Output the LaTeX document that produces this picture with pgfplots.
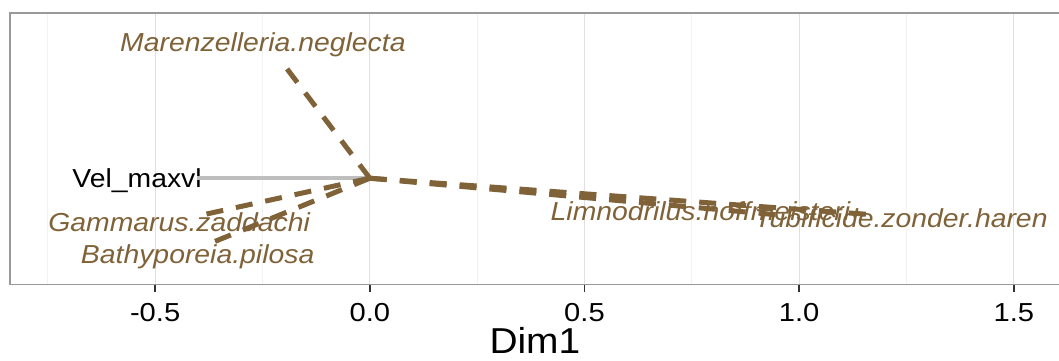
\documentclass[border=0pt]{standalone}
\usepackage{fontspec}
\setmainfont{Liberation Sans}
\usepackage{pgfplots}
\pgfplotsset{compat=1.18}
\definecolor{spc}{RGB}{128,98,56}
\definecolor{envc}{RGB}{190,190,190}
\tikzset{
  spcline/.style={spc, line width=2.5pt, dash pattern=on 8.5pt off 6.5pt, no markers},
  spclab/.style={text=spc, font=\itshape\fontsize{13}{15}\selectfont\addfontfeature{FakeStretch=1.09}},
}
\begin{document}
\begin{tikzpicture}
\begin{axis}[
  name=ax,
  scale only axis,
  width=524.5pt, height=135.5pt,
  xmin=-0.838, xmax=1.607, ymin=-0.247, ymax=0.385,
  axis line style={draw=black!40, line width=0.7pt},
  xtick={-0.5,0,0.5,1,1.5},
  xticklabels={-0.5,0.0,0.5,1.0,1.5},
  minor xtick={-0.75,-0.25,0.25,0.75,1.25},
  ytick=\empty,
  xmajorgrids, xminorgrids,
  major grid style={black!12, line width=0.6pt},
  minor grid style={black!5, line width=0.6pt},
  tick pos=bottom, tick align=outside,
  major tick length=4pt, minor tick length=0pt,
  every tick/.style={black!80, line width=0.8pt},
  ticklabel style={font=\fontsize{13}{15}\selectfont\addfontfeature{FakeStretch=1.12}, text=black, yshift=-2pt},
  xlabel={Dim1},
  xlabel style={font=\fontsize{18}{20}\selectfont\addfontfeature{FakeStretch=1.08}, yshift=4pt},
  clip=false,
]
% species and variable names
\node[spclab] at (axis cs:-0.249,0.310) {Marenzelleria.neglecta};
\node[text=black, font=\fontsize{13}{15}\selectfont\addfontfeature{FakeStretch=1.09}] at (axis cs:-0.542,-0.005) {Vel\_maxvl};
\node[spclab] at (axis cs:-0.444,-0.103) {Gammarus.zaddachi};
\node[spclab] at (axis cs:-0.401,-0.182) {Bathyporeia.pilosa};
\node[spclab] at (axis cs:0.770,-0.077) {Limnodrilus.hoffmeisteri};
\node[spclab] at (axis cs:1.237,-0.093) {Tubificide.zonder.haren};
% environmental vector
\addplot[envc, line width=2pt, no markers] coordinates {(0,0) (-0.402,0)};
% species vectors
\addplot[spcline] coordinates {(0,0) (-0.199,0.263)};
\addplot[spcline] coordinates {(0,0) (-0.383,-0.084)};
\addplot[spcline] coordinates {(0,0) (-0.365,-0.149)};
\addplot[spcline] coordinates {(0,0) (0.957,-0.086)};
\addplot[spcline] coordinates {(0,0) (1.185,-0.086)};
\end{axis}
\pgfresetboundingbox
\path ([shift={(-5pt,-38pt)}]ax.south west) rectangle ([shift={(-0.4pt,6.5pt)}]ax.north east);
\end{tikzpicture}
\end{document}
